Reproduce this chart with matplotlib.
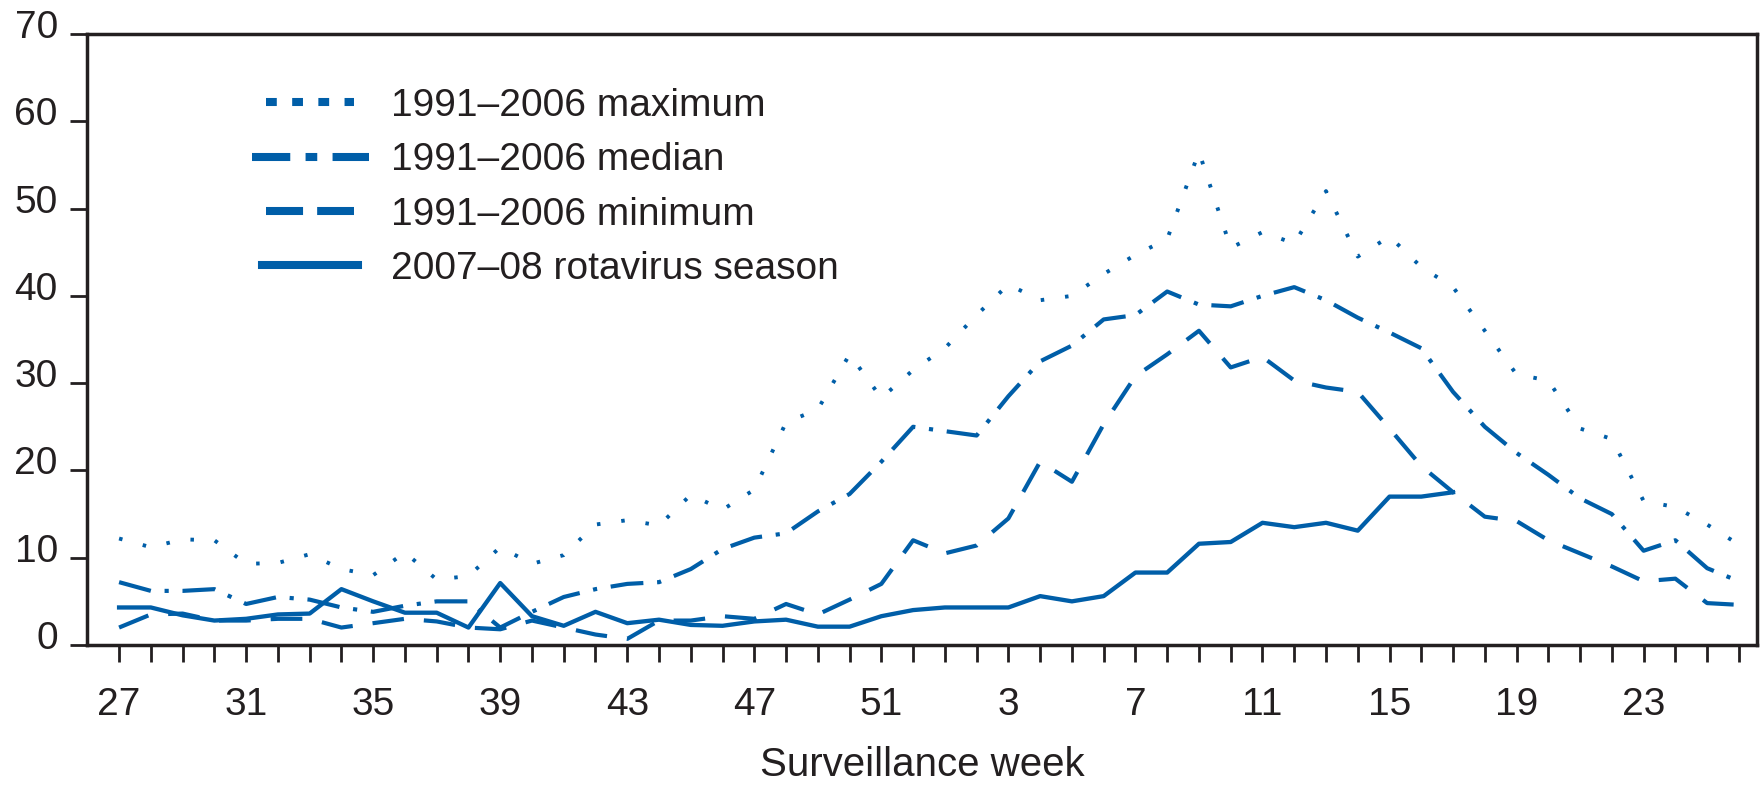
import numpy as np
import matplotlib
matplotlib.use("Agg")
import matplotlib.pyplot as plt
import matplotlib.transforms as mtransforms
from matplotlib.lines import Line2D
from matplotlib.legend_handler import HandlerLine2D

# surveillance weeks, July 2007 -> June 2008
weeks = list(range(27, 53)) + list(range(1, 27))

maximum = [12.2, 11.2, 12.1, 12.0, 9.3, 9.4, 10.4, 8.7, 8.0, 10.6,
           7.5, 7.9, 11.2, 9.3, 10.3, 13.8, 14.3, 13.7, 17.2, 15.5,
           17.8, 25.5, 27.0, 33.3, 28.3, 31.5,
           34.0, 37.8, 41.3, 39.5, 40.0, 42.5, 44.7, 46.5, 56.5, 45.5,
           47.3, 46.0, 52.0, 44.5, 46.8, 43.3, 41.0, 36.0, 31.0, 30.3,
           24.8, 23.6, 16.5, 15.8, 13.8, 11.5]

median = [7.2, 6.2, 6.2, 6.4, 4.7, 5.5, 5.2, 4.3, 3.8, 4.5,
          5.0, 5.0, 2.0, 3.8, 5.5, 6.4, 7.0, 7.2, 8.7, 11.0,
          12.3, 12.8, 15.3, 17.3, 21.0, 25.0,
          24.5, 24.0, 28.5, 32.5, 34.3, 37.3, 37.8, 40.5, 39.0, 38.8,
          40.0, 41.0, 39.5, 37.5, 35.8, 34.0, 29.0, 25.0, 22.0, 19.5,
          16.8, 15.0, 10.8, 12.0, 8.8, 7.3]

minimum = [2.0, 3.5, 3.6, 2.8, 2.8, 3.0, 3.0, 2.0, 2.5, 3.0,
           2.7, 2.0, 1.8, 2.8, 2.0, 1.2, 0.7, 2.8, 2.8, 3.3,
           3.0, 4.7, 3.5, 5.2, 7.0, 12.0,
           10.5, 11.4, 14.5, 21.0, 18.7, 25.3, 30.8, 33.3, 36.0, 31.8,
           33.0, 30.3, 29.5, 29.0, 24.8, 20.5, 17.5, 14.7, 14.2, 12.0,
           10.5, 9.0, 7.3, 7.6, 4.8, 4.6]

# 2007-08 season, reported through week 17
season = [4.3, 4.3, 3.4, 2.8, 3.0, 3.5, 3.6, 6.4, 5.0, 3.7,
          3.7, 2.0, 7.1, 3.3, 2.2, 3.8, 2.5, 2.9, 2.3, 2.2,
          2.7, 2.9, 2.1, 2.1, 3.3, 4.0,
          4.3, 4.3, 4.3, 5.6, 5.0, 5.6, 8.3, 8.3, 11.6, 11.8,
          14.0, 13.5, 14.0, 13.1, 17.0, 17.0, 17.5]

series_labels = ["1991\u20132006 maximum", "1991\u20132006 median",
                 "1991\u20132006 minimum", "2007\u201308 rotavirus season"]
yticks = [0, 10, 20, 30, 40, 50, 60, 70]
xlabel = "Surveillance week"

BLUE = "#005EA8"
INK = "#231F20"

plt.rcParams["font.family"] = ["Liberation Sans", "DejaVu Sans"]

W, H = 1761, 785
fig = plt.figure(figsize=(W / 100, H / 100), dpi=100)
ax = fig.add_axes([87 / W, 1 - 645 / H, (1757 - 87) / W, (645 - 34) / H])

x = np.arange(len(weeks))
ax.plot(x, maximum, color=BLUE, lw=2.8, linestyle=(0, (0.9, 5.4)))
ax.plot(x, median, color=BLUE, lw=3.0, linestyle=(0, (7.9, 3.3, 1.0, 3.3)))
ax.plot(x, minimum, color=BLUE, lw=3.0, linestyle=(0, (7.6, 4.8)))
ax.plot(x[:len(season)], season, color=BLUE, lw=3.1, solid_joinstyle="round")

ax.set_xlim(-1.01, 51.57)
ax.set_ylim(0, 70)

ax.set_xticks(x)
ax.set_xticklabels([str(w) if k % 4 == 0 else "" for k, w in enumerate(weeks)])
ax.set_yticks(yticks)
ax.tick_params(axis="both", direction="out", length=12, width=2.0,
               color=INK, labelcolor=INK, labelsize=28)
ax.tick_params(axis="x", pad=18)
ax.tick_params(axis="y", pad=9)
for spine in ax.spines.values():
    spine.set_linewidth(2.5)
    spine.set_color(INK)

# y labels sit a little above their ticks in the original
shift = mtransforms.ScaledTranslation(0, 0.10, fig.dpi_scale_trans)
for lab in ax.get_yticklabels():
    lab.set_transform(lab.get_transform() + shift)

ax.set_xlabel(xlabel, fontsize=29, color=INK, labelpad=17)

# legend with heavier sample lines
handles = [
    Line2D([], [], color=BLUE, lw=5.8, linestyle=(0, (1.34, 1.91)), dash_capstyle="butt"),
    Line2D([], [], color=BLUE, lw=5.8, linestyle=(0, (4.75, 1.9, 1.45, 1.9)), dash_capstyle="butt"),
    Line2D([], [], color=BLUE, lw=5.8, linestyle=(0, (4.6, 1.75)), dash_capstyle="butt"),
    Line2D([], [], color=BLUE, lw=5.8),
]
hmap = {
    handles[0]: HandlerLine2D(numpoints=2, marker_pad=0.1),
    handles[1]: HandlerLine2D(numpoints=2, marker_pad=-0.27),
    handles[2]: HandlerLine2D(numpoints=2, marker_pad=0.1),
    handles[3]: HandlerLine2D(numpoints=2, marker_pad=0.0),
}
leg = fig.legend(handles, series_labels, handler_map=hmap,
                 loc="upper left", bbox_to_anchor=(262 / W, 1 - 88 / H),
                 frameon=False, fontsize=28, borderpad=0, borderaxespad=0,
                 handlelength=2.47, handletextpad=0.85, labelspacing=0.47)
for t in leg.get_texts():
    t.set_color(INK)

fig.savefig("out.png", dpi=100)
